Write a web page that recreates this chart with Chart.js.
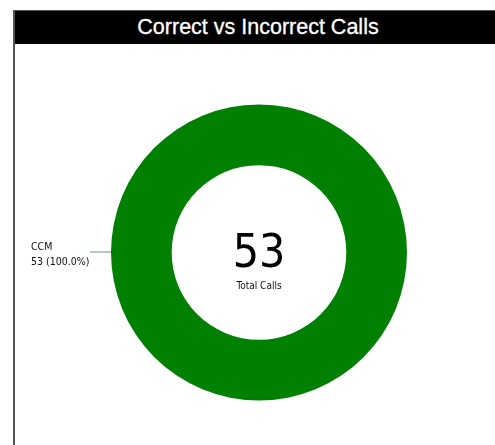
<!DOCTYPE html>
<html><head><meta charset="utf-8">
<script src="https://cdn.jsdelivr.net/npm/chart.js@4"></script>
<style>
html,body{margin:0;padding:0;background:#fff;width:495px;height:445px;overflow:hidden}
#frame{position:absolute;left:13px;top:10px;width:482px;height:435px;border-left:2px solid #555;border-top:1px solid #555;box-sizing:border-box}
#hdr{position:absolute;left:0;top:0;right:0;height:33px;background:#000;color:#fff;font-family:"Liberation Sans",Arial,sans-serif;font-size:21.5px;line-height:33px;text-align:center;padding-left:6px;-webkit-text-stroke:0.3px #fff}
#wrap{position:absolute;left:15px;top:44px;width:480px;height:401px}
</style></head><body>
<div id="frame"><div id="hdr">Correct vs Incorrect Calls</div></div>
<div id="wrap"><canvas id="c"></canvas></div>
<script>
const categories = ["CCM"];
const values = [53];
const centerLabel = "Total Calls";
const colors = ["#008000"];

const total = values.reduce((a,b)=>a+b,0);

const labelPlugin = {
  id: 'labels',
  afterDatasetsDraw(chart) {
    const ctx = chart.ctx;
    const meta = chart.getDatasetMeta(0);
    const arc = meta.data[0];
    const cx = arc.x, cy = arc.y;
    ctx.save();
    // center text
    ctx.fillStyle = '#000';
    ctx.textAlign = 'center';
    ctx.textBaseline = 'alphabetic';
    ctx.font = '46px "DejaVu Sans Condensed", "DejaVu Sans", sans-serif';
    ctx.fillText(String(total), cx, cy + 14);
    ctx.font = '10px "DejaVu Sans Condensed", "DejaVu Sans", sans-serif';
    ctx.fillStyle = '#111';
    ctx.fillText(centerLabel, cx, cy + 36.5);
    // outside labels
    meta.data.forEach((a, i) => {
      const lx = a.x - a.outerRadius;
      const ly = a.y;
      ctx.strokeStyle = '#6a9a6a';
      ctx.lineWidth = 1;
      ctx.beginPath();
      ctx.moveTo(lx, ly - 0.5);
      ctx.lineTo(lx - 21, ly - 0.5);
      ctx.stroke();
      ctx.fillStyle = '#111';
      ctx.textAlign = 'left';
      ctx.font = '10.5px "DejaVu Sans Condensed", "DejaVu Sans", sans-serif';
      const pct = (values[i] / total * 100).toFixed(1);
      ctx.fillText(categories[i], 16, ly - 3);
      ctx.fillText(values[i] + ' (' + pct + '%)', 16, ly + 12);
    });
    ctx.restore();
  }
};

new Chart(document.getElementById('c'), {
  type: 'doughnut',
  data: {
    labels: categories,
    datasets: [{ data: values, backgroundColor: colors, borderWidth: 0, hoverOffset: 0 }]
  },
  options: {
    responsive: true,
    maintainAspectRatio: false,
    animation: false,
    cutout: '59%',
    rotation: 0,
    layout: { padding: { left: 96, right: 88, top: 60, bottom: 44 } },
    plugins: { legend: { display: false }, tooltip: { enabled: false }, title: { display: false } }
  },
  plugins: [labelPlugin]
});
</script>
</body></html>
